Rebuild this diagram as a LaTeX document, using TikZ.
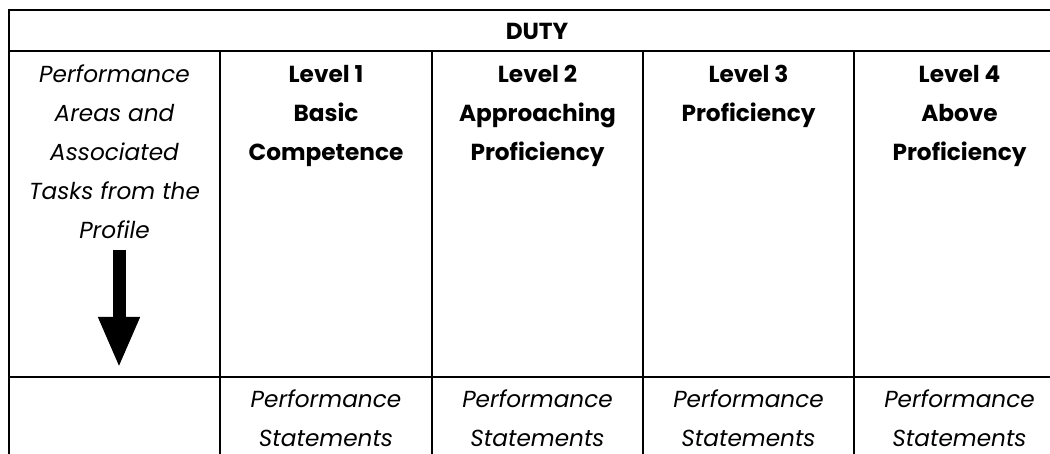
\documentclass[tikz,border=0pt]{standalone}
\usepackage{fontspec}
\setmainfont{Poppins}
\usetikzlibrary{arrows.meta}
\tikzset{
	cell/.style={align=center,inner sep=0pt,anchor=base,font=\fontsize{16.5}{27.7}\selectfont},
	head/.style={cell,font=\fontsize{16.5}{27.7}\selectfont\bfseries},
	note/.style={cell,font=\fontsize{16.5}{27.7}\selectfont\itshape},
	grid/.style={line width=1.8pt,line cap=rect},
}
\begin{document}
\begin{tikzpicture}[x=0.025cm,y=-0.025cm]
	\useasboundingbox (0,0) rectangle (1050,453) ;
	\draw[grid] (9,453) -- (9,10) -- (1050,10) ;
	\draw[grid] (9,51) -- (1050,51) ;
	\draw[grid] (9,377) -- (1050,377) ;
	\foreach \x in {220,432,643,854}
		\draw[grid] (\x,51) -- (\x,453) ;
	\node[head] (Duty) at (537,40) {DUTY} ;
	\node[note] (Areas) at (114.5,238) {Performance\\Areas and\\Associated\\Tasks from the\\Profile} ;
	\node[head] (Level1) at (326,160) {Level 1\\Basic\\Competence} ;
	\node[head] (Level2) at (537.5,160) {Level 2\\Approaching\\Proficiency} ;
	\node[head] (Level3) at (748.5,121) {Level 3\\Proficiency} ;
	\node[head] (Level4) at (959.5,160) {Level 4\\Above\\Proficiency} ;
	\node[note] (Stat1) at (326,446) {Performance\\Statements} ;
	\node[note] (Stat2) at (537.5,446) {Performance\\Statements} ;
	\node[note] (Stat3) at (748.5,446) {Performance\\Statements} ;
	\node[note] (Stat4) at (959.5,446) {Performance\\Statements} ;
	\coordinate (ArrowTop) at (119,250) ;
	\coordinate (ArrowTip) at (119,368) ;
	\draw[line width=0.325cm,-{Triangle[width=0.95cm,length=1.275cm]}] (ArrowTop) -- (ArrowTip) ;
\end{tikzpicture}
\end{document}
